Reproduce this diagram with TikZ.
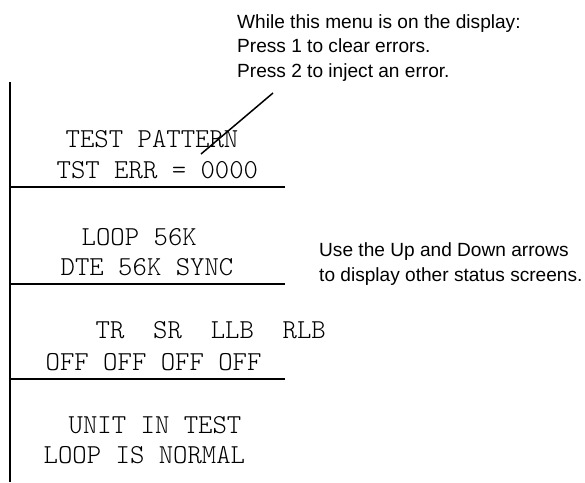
\documentclass[tikz,border=0pt]{standalone}
\usepackage{fontspec}
\setmainfont{Liberation Sans}
\newfontfamily\lcdfont{Latin Modern Mono Light}
\begin{document}
\begin{tikzpicture}[x=1pt,y=-1pt,
  lcd/.style={anchor=base west,inner sep=0pt,font=\lcdfont\fontsize{27.4}{31}\selectfont},
  note/.style={anchor=base west,inner sep=0pt,font=\fontsize{19.1}{24}\selectfont},
  rule/.style={line width=2.4pt},
  lead/.style={line width=1.5pt}]
\useasboundingbox (0,0) rectangle (585,482);
% vertical bar and separators
\coordinate (vt) at (10,82);
\coordinate (vb) at (10,482);
\draw[rule] (vt) -- (vb);
\coordinate (s1a) at (10,187); \coordinate (s1b) at (285,187);
\coordinate (s2a) at (10,284); \coordinate (s2b) at (285,284);
\coordinate (s3a) at (10,379); \coordinate (s3b) at (285,379);
\draw[rule] (s1a) -- (s1b);
\draw[rule] (s2a) -- (s2b);
\draw[rule] (s3a) -- (s3b);
% screens
\node[lcd] (t1) at (65.5,147) {TEST PATTERN};
\node[lcd] (t2) at (56.5,178) {TST ERR = 0000};
\node[lcd] (t3) at (81.5,245) {LOOP 56K};
\node[lcd] (t4) at (60.5,275) {DTE 56K SYNC};
\node[lcd] (t5) at (95.5,338) {TR\ \ SR\ \ LLB\ \ RLB};
\node[lcd] (t6) at (45.5,370) {OFF OFF OFF OFF};
\node[lcd] (t7) at (68.5,433) {UNIT IN TEST};
\node[lcd] (t8) at (43.5,463) {LOOP IS NORMAL};
% notes
\node[note] (n1) at (237,28) {While this menu is on the display:};
\node[note] (n2) at (237,52) {Press 1 to clear errors.};
\node[note] (n3) at (237,77) {Press 2 to inject an error.};
\node[note] (n4) at (319,256) {Use the Up and Down arrows};
\node[note] (n5) at (319,281) {to display other status screens.};
% leader
\coordinate (la) at (201,154);
\coordinate (lb) at (273,93);
\draw[lead] (la) -- (lb);
\end{tikzpicture}
\end{document}
